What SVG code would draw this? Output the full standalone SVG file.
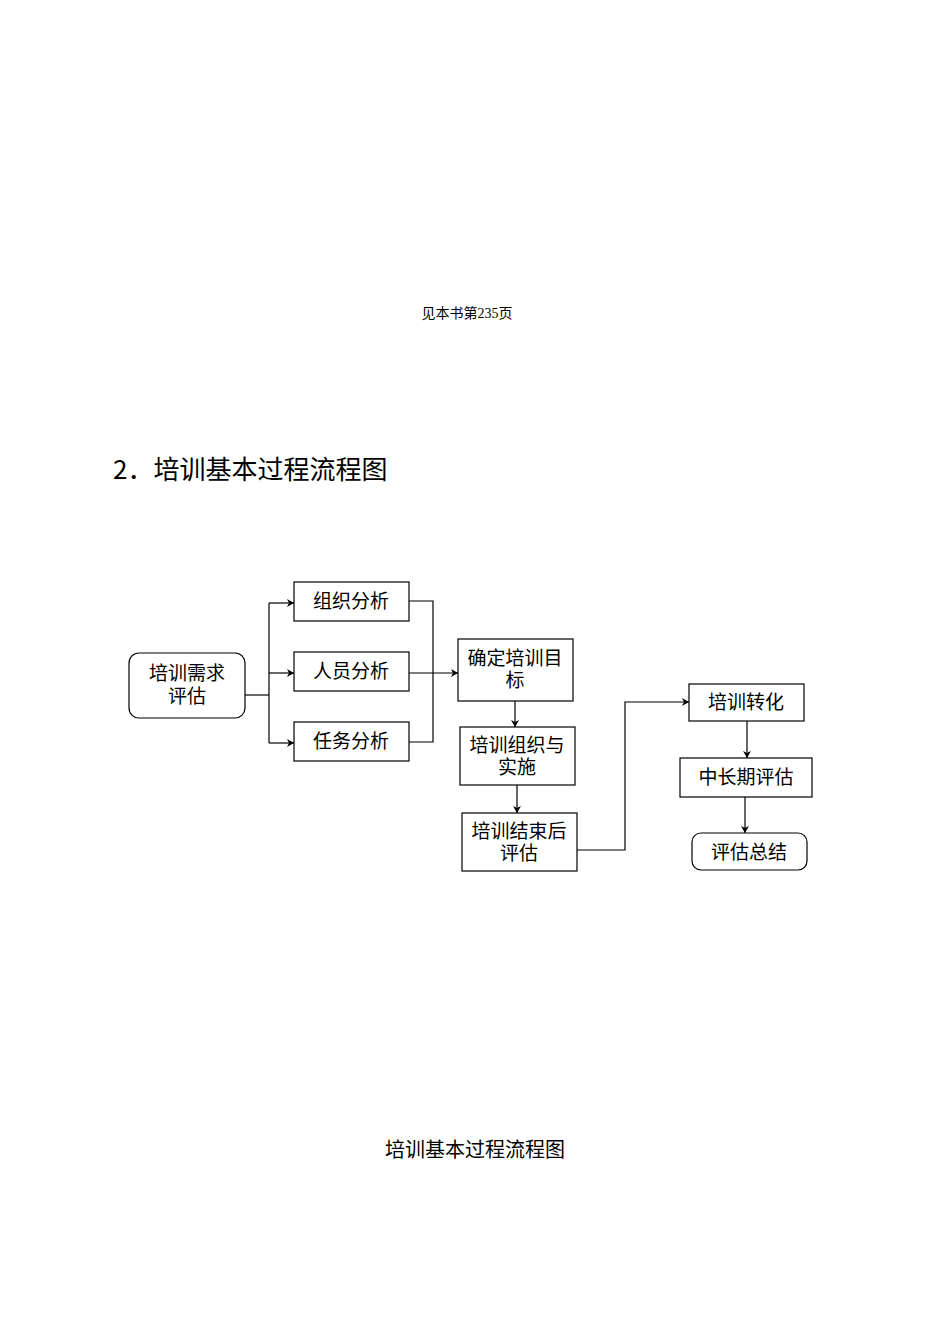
<svg xmlns="http://www.w3.org/2000/svg" width="950" height="1342" viewBox="0 0 950 1342">
<style>
.b{fill:#fff;stroke:#000;stroke-width:1.2}
.t{font-family:"Liberation Serif","Noto Sans CJK SC",serif;font-size:19px;text-anchor:middle;fill:#000}
.c{fill:none;stroke:#000;stroke-width:1.2}
</style>
<defs><marker id="a" markerWidth="8" markerHeight="8" refX="7" refY="4" orient="auto" markerUnits="userSpaceOnUse"><path d="M0,0 L7,4 L0,8 L2,4z" fill="#000"/></marker></defs>
<rect width="950" height="1342" fill="#fff"/>
<text x="467" y="318" font-family="Liberation Serif,'Noto Sans CJK SC',serif" font-size="14" text-anchor="middle">见本书第235页</text>
<text x="113" y="479" font-family="'Noto Sans CJK SC',sans-serif" font-size="26">2．培训基本过程流程图</text>
<text x="475" y="1157" font-family="'Noto Sans CJK SC',sans-serif" font-size="20" text-anchor="middle">培训基本过程流程图</text>
<g id="connectors">
<path class="c" d="M245,695 H269" stroke-width="2"/>
<path class="c" d="M269,603 V743"/>
<path class="c" d="M269,603 H294" marker-end="url(#a)"/>
<path class="c" d="M269,673 H294" marker-end="url(#a)"/>
<path class="c" d="M269,743 H294" marker-end="url(#a)"/>
<path class="c" d="M409,601 H433 V742 H409"/>
<path class="c" d="M409,673 H458" marker-end="url(#a)"/>
<path class="c" d="M515,701 V727" marker-end="url(#a)"/>
<path class="c" d="M517,785 V813" marker-end="url(#a)"/>
<path class="c" d="M577,850 H625 V702 H689" marker-end="url(#a)"/>
<path class="c" d="M747,721 V758" marker-end="url(#a)"/>
<path class="c" d="M745,797 V833" marker-end="url(#a)"/>
</g>
<g id="n1"><rect class="b" x="129" y="653" width="116" height="65" rx="10"/><text class="t" x="187" y="680">培训需求</text><text class="t" x="187" y="703">评估</text></g>
<g id="n2"><rect class="b" x="294" y="582" width="115" height="39"/><text class="t" x="351" y="608">组织分析</text></g>
<g id="n3"><rect class="b" x="294" y="652" width="115" height="39"/><text class="t" x="351" y="678">人员分析</text></g>
<g id="n4"><rect class="b" x="294" y="722" width="115" height="39"/><text class="t" x="351" y="748">任务分析</text></g>
<g id="n5"><rect class="b" x="458" y="639" width="115" height="62"/><text class="t" x="515" y="665">确定培训目</text><text class="t" x="515" y="687">标</text></g>
<g id="n6"><rect class="b" x="460" y="727" width="115" height="58"/><text class="t" x="517" y="752">培训组织与</text><text class="t" x="517" y="774">实施</text></g>
<g id="n7"><rect class="b" x="462" y="813" width="115" height="58"/><text class="t" x="519" y="838">培训结束后</text><text class="t" x="519" y="860">评估</text></g>
<g id="n8"><rect class="b" x="689" y="684" width="115" height="37"/><text class="t" x="746" y="709">培训转化</text></g>
<g id="n9"><rect class="b" x="680" y="758" width="132" height="39"/><text class="t" x="746" y="784">中长期评估</text></g>
<g id="n10"><rect class="b" x="692" y="833" width="115" height="37" rx="9"/><text class="t" x="749" y="859">评估总结</text></g>
</svg>
